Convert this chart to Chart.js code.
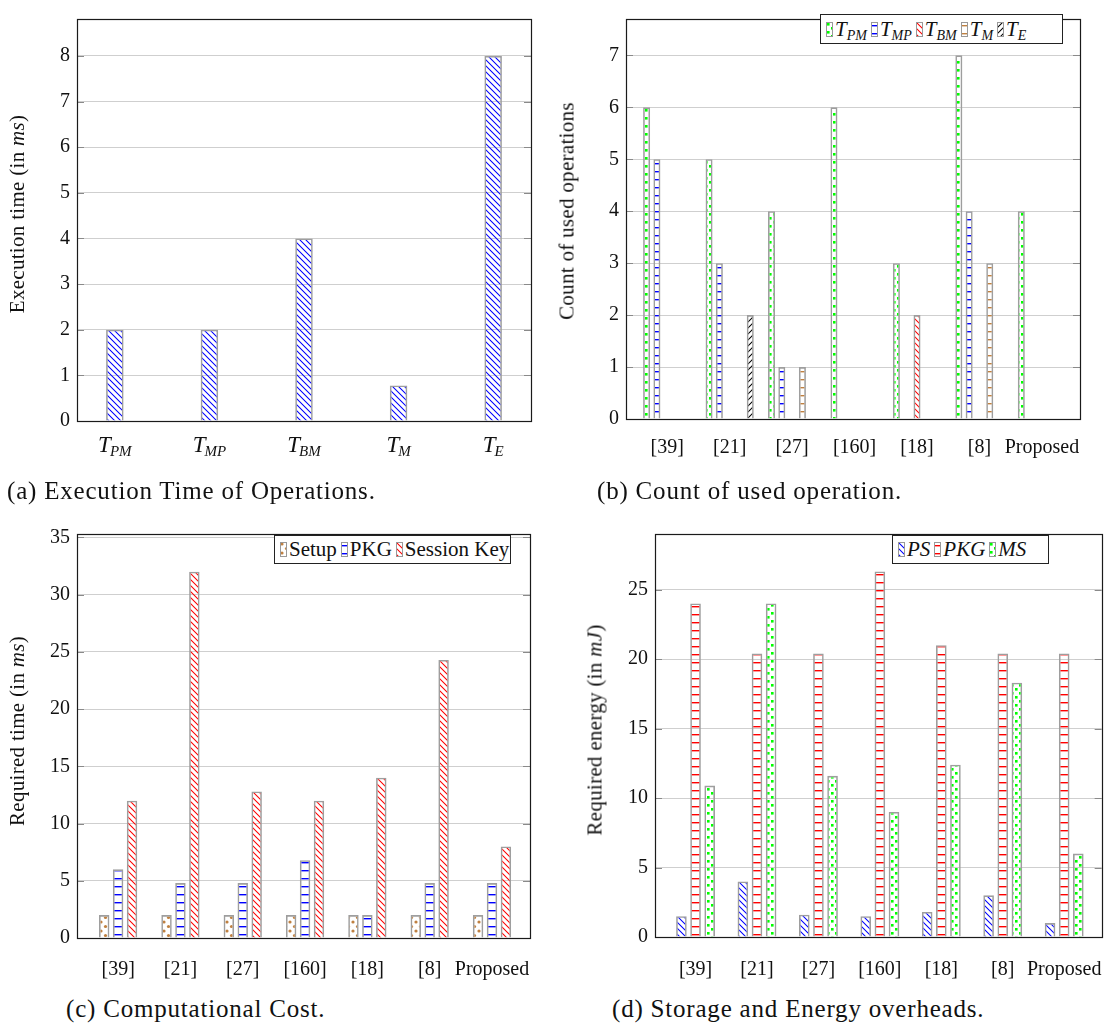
<!DOCTYPE html>
<html><head><meta charset="utf-8">
<script src="https://cdn.jsdelivr.net/npm/chart.js@4.4.1/dist/chart.umd.min.js"></script>
<style>
html,body{margin:0;padding:0;background:#fff;}
body{width:1115px;height:1032px;position:relative;overflow:hidden;font-family:'Liberation Serif','Times New Roman',serif;color:#111;}
.cv{position:absolute;}
.cap{position:absolute;font-size:25px;letter-spacing:0.8px;white-space:nowrap;line-height:1;}
.ytitle{position:absolute;font-size:21px;letter-spacing:0.3px;white-space:nowrap;line-height:1;transform:translate(-50%,-50%) rotate(-90deg);}
.legend{position:absolute;border:1.3px solid #222;background:#fff;display:flex;align-items:center;box-sizing:border-box;font-size:21px;padding:0 5px;white-space:nowrap;}
.legend canvas{margin:0 2px 0 4px;}
.legend canvas:first-child{margin-left:0;}
sub{font-size:14px;vertical-align:-4px;line-height:0;}
</style></head><body>
<canvas id="ca" class="cv" width="545" height="470" style="left:0;top:0"></canvas>
<canvas id="cb" class="cv" width="550" height="470" style="left:560px;top:0"></canvas>
<canvas id="cc" class="cv" width="545" height="470" style="left:0;top:515px"></canvas>
<canvas id="cd" class="cv" width="545" height="470" style="left:570px;top:515px"></canvas>

<div class="ytitle" style="left:17px;top:214px">Execution time (in <i>ms</i>)</div>
<div class="ytitle" style="left:567px;top:211px">Count of used operations</div>
<div class="ytitle" style="left:17px;top:731px">Required time (in <i>ms</i>)</div>
<div class="ytitle" style="left:595px;top:730px">Required energy (in <i>mJ</i>)</div>

<div id="legb" class="legend" style="left:820px;top:14px;width:243px;height:30px"></div>
<div id="legc" class="legend" style="left:274px;top:535px;width:237px;height:29px"></div>
<div id="legd" class="legend" style="left:892px;top:535px;width:157px;height:29px"></div>

<div class="cap" style="left:7px;top:478px">(a) Execution Time of Operations.</div>
<div class="cap" style="left:597px;top:478px">(b) Count of used operation.</div>
<div class="cap" style="left:66px;top:996px">(c) Computational Cost.</div>
<div class="cap" style="left:612px;top:996px">(d) Storage and Energy overheads.</div>

<script>
// ---------- data ----------
const opMain = 'T';
const opSubs = ['PM', 'MP', 'BM', 'M', 'E'];
const execTime = [2, 2, 4, 0.78, 8];

const schemes = ['[39]', '[21]', '[27]', '[160]', '[18]', '[8]', 'Proposed'];

const countTPM = [6, 5, 4, 6, 3, 7, 4];
const countTMP = [5, 3, 1, 0, 0, 4, 0];
const countTBM = [0, 0, 0, 0, 2, 0, 0];
const countTM  = [0, 0, 1, 0, 0, 3, 0];
const countTE  = [0, 2, 0, 0, 0, 0, 0];

const costSetup   = [2, 2, 2, 2, 2, 2, 2];
const costPKG     = [6, 4.8, 4.8, 6.8, 2, 4.8, 4.8];
const costSession = [12, 32, 12.8, 12, 14, 24.3, 8];

const energyPS  = [1.5, 4, 1.6, 1.5, 1.8, 3, 1];
const energyPKG = [24, 20.4, 20.4, 26.3, 21, 20.4, 20.4];
const energyMS  = [10.9, 24, 11.6, 9, 12.4, 18.3, 6];

const yTicksA = {max: 8.81, step: 1};
const yTicksB = {max: 7.7, step: 1};
const yTicksC = {max: 35.3, step: 5};
const yTicksD = {max: 29.0, step: 5};

// ---------- patterns ----------
const BLUE = '#0000ff', RED = '#ff0000', GREEN = '#00ff00', BROWN = '#bf8040', BLACK = '#000000';
function patternTile(type, color) {
  const c = document.createElement('canvas');
  let w = 6, h = 6;
  if (type === 'hlines') { w = 4; h = 8; }
  if (type === 'cdots') { w = 8; h = 8; }
  if (type === 'dots') { w = 9; h = 9; }
  c.width = w; c.height = h;
  const g = c.getContext('2d');
  g.strokeStyle = color; g.fillStyle = color; g.lineWidth = 1.05;
  if (type === 'nw') {
    g.beginPath();
    for (const o of [-w, 0, w]) { g.moveTo(o - 1, -1); g.lineTo(o + w + 1, h + 1); }
    g.stroke();
  } else if (type === 'ne') {
    g.beginPath();
    for (const o of [-w, 0, w]) { g.moveTo(o - 1, h + 1); g.lineTo(o + w + 1, -1); }
    g.stroke();
  } else if (type === 'hlines') {
    g.fillRect(0, 3, w, 1.4);
  } else if (type === 'cdots') {
    g.fillRect(1, 1, 2.6, 2.6); g.fillRect(5, 5, 2.6, 2.6);
  } else if (type === 'dots') {
    g.beginPath(); g.arc(2, 2, 1.6, 0, 7); g.fill();
    g.beginPath(); g.arc(6.5, 6.5, 1.6, 0, 7); g.fill();
  }
  return c;
}
function pattern(type, color) {
  const ctx = document.createElement('canvas').getContext('2d');
  return ctx.createPattern(patternTile(type, color), 'repeat');
}
function swatch(type, color) {
  const c = document.createElement('canvas');
  c.width = 7; c.height = 15;
  const g = c.getContext('2d');
  g.fillStyle = '#fff'; g.fillRect(0, 0, 7, 15);
  g.fillStyle = g.createPattern(patternTile(type, color), 'repeat');
  g.fillRect(0, 0, 7, 15);
  g.strokeStyle = '#999'; g.lineWidth = 1; g.strokeRect(0.5, 0.5, 6, 14);
  return c;
}
function legend(id, items) {
  const el = document.getElementById(id);
  items.forEach(it => {
    el.appendChild(swatch(it.type, it.color));
    const s = document.createElement('span');
    s.innerHTML = it.html;
    el.appendChild(s);
  });
}

// ---------- plugins ----------
const FONT = "'Liberation Serif','Times New Roman',serif";
const framePlugin = {
  id: 'frame',
  afterDatasetsDraw(chart) {
    const {ctx, chartArea: a, scales: {y}} = chart;
    ctx.save();
    ctx.strokeStyle = '#8a8a8a'; ctx.lineWidth = 1;
    y.ticks.forEach(t => {
      const py = Math.round(y.getPixelForValue(t.value)) + 0.5;
      ctx.beginPath();
      ctx.moveTo(a.left, py); ctx.lineTo(a.left + 7, py);
      ctx.moveTo(a.right - 7, py); ctx.lineTo(a.right, py);
      ctx.stroke();
    });
    ctx.strokeStyle = '#1a1a1a'; ctx.lineWidth = 1.2;
    ctx.strokeRect(Math.round(a.left) + 0.5, Math.round(a.top) + 0.5,
      Math.round(a.right - a.left), Math.round(a.bottom - a.top));
    ctx.restore();
  }
};
const subLabelPlugin = {
  id: 'subLabels',
  afterDraw(chart, args, o) {
    if (!o || !o.subs) return;
    const ctx = chart.ctx, xs = chart.scales.x;
    ctx.save();
    ctx.fillStyle = '#111'; ctx.textBaseline = 'alphabetic';
    o.subs.forEach((sub, i) => {
      const x = xs.getPixelForValue(i);
      ctx.font = 'italic 23px ' + FONT; const w1 = ctx.measureText(o.main).width;
      ctx.font = 'italic 15px ' + FONT; const w2 = ctx.measureText(sub).width;
      const x0 = x - (w1 + w2 - 1) / 2;
      const yb = chart.chartArea.bottom + o.offset;
      ctx.font = 'italic 23px ' + FONT; ctx.fillText(o.main, x0, yb);
      ctx.font = 'italic 15px ' + FONT; ctx.fillText(sub, x0 + w1 - 1, yb + 4);
    });
    ctx.restore();
  }
};
Chart.register(framePlugin, subLabelPlugin);

// ---------- chart builder ----------
function build(id, cfg) {
  const datasets = cfg.series.map(s => ({
    label: s.label,
    data: s.values.map((v, i) => ({x: i, y: v})),
    backgroundColor: pattern(s.type, s.color),
    borderColor: '#9e9e9e',
    borderWidth: 1.6,
    categoryPercentage: cfg.catPct,
    barPercentage: cfg.barPct
  }));
  return new Chart(document.getElementById(id), {
    type: 'bar',
    data: {datasets},
    options: {
      responsive: false, animation: false, devicePixelRatio: 1,
      layout: {padding: cfg.pad},
      plugins: {legend: {display: false}, tooltip: {enabled: false}, subLabels: cfg.subLabels || {}},
      scales: {
        x: {
          type: 'linear', min: cfg.xmin, max: cfg.xmax, offset: false,
          grid: {display: false, offset: false}, border: {display: false},
          ticks: {
            display: !cfg.subLabels, stepSize: 1, includeBounds: false, autoSkip: false,
            maxRotation: 0, minRotation: 0, padding: cfg.xPad,
            color: '#111', font: {family: FONT, size: 20},
            callback: v => (Number.isInteger(v) && cfg.labels ? (cfg.labels[v] ?? '') : '')
          },
          afterFit: s => { s.height = cfg.xHeight; }
        },
        y: {
          type: 'linear', min: 0, max: cfg.yt.max,
          grid: {color: '#cfcfcf', lineWidth: 1, drawTicks: false},
          border: {display: false},
          ticks: {stepSize: cfg.yt.step, includeBounds: false, padding: 7,
            color: '#111', font: {family: FONT, size: 20}},
          afterFit: s => { s.width = cfg.yWidth; }
        }
      }
    }
  });
}

// (a)
build('ca', {
  series: [{label: 'Execution time', values: execTime, type: 'nw', color: BLUE}],
  xmin: -0.4, xmax: 4.4, yt: yTicksA, catPct: 1, barPct: 0.185,
  pad: {top: 7, right: 14, left: 0, bottom: 0}, yWidth: 77, xHeight: 49, xPad: 0,
  subLabels: {main: opMain, subs: opSubs, offset: 31}
});
// (b)
build('cb', {
  series: [
    {label: 'T_PM', values: countTPM, type: 'cdots', color: GREEN},
    {label: 'T_MP', values: countTMP, type: 'hlines', color: BLUE},
    {label: 'T_BM', values: countTBM, type: 'nw', color: RED},
    {label: 'T_M', values: countTM, type: 'hlines', color: BROWN},
    {label: 'T_E', values: countTE, type: 'ne', color: BLACK}
  ],
  labels: schemes, xmin: -0.66, xmax: 6.61, yt: yTicksB, catPct: 0.825, barPct: 0.68,
  pad: {top: 3, right: 30, left: 0, bottom: 0}, yWidth: 66, xHeight: 51, xPad: 9
});
// (c)
build('cc', {
  series: [
    {label: 'Setup', values: costSetup, type: 'dots', color: BROWN},
    {label: 'PKG', values: costPKG, type: 'hlines', color: BLUE},
    {label: 'Session Key', values: costSession, type: 'nw', color: RED}
  ],
  labels: schemes, xmin: -0.66, xmax: 6.61, yt: yTicksC, catPct: 0.67, barPct: 0.75,
  pad: {top: 9, right: 15, left: 0, bottom: 0}, yWidth: 77, xHeight: 47, xPad: 12
});
// (d)
build('cd', {
  series: [
    {label: 'PS', values: energyPS, type: 'nw', color: BLUE},
    {label: 'PKG', values: energyPKG, type: 'hlines', color: RED},
    {label: 'MS', values: energyMS, type: 'cdots', color: GREEN}
  ],
  labels: schemes, xmin: -0.66, xmax: 6.61, yt: yTicksD, catPct: 0.69, barPct: 0.75,
  pad: {top: 8, right: 7, left: 0, bottom: 0}, yWidth: 85, xHeight: 48, xPad: 13
});

// legends
legend('legb', [
  {type: 'cdots', color: GREEN, html: '<i>T<sub>PM</sub></i>'},
  {type: 'hlines', color: BLUE, html: '<i>T<sub>MP</sub></i>'},
  {type: 'nw', color: RED, html: '<i>T<sub>BM</sub></i>'},
  {type: 'hlines', color: BROWN, html: '<i>T<sub>M</sub></i>'},
  {type: 'ne', color: BLACK, html: '<i>T<sub>E</sub></i>'}
]);
legend('legc', [
  {type: 'dots', color: BROWN, html: 'Setup'},
  {type: 'hlines', color: BLUE, html: 'PKG'},
  {type: 'nw', color: RED, html: 'Session Key'}
]);
legend('legd', [
  {type: 'nw', color: BLUE, html: '<i>PS</i>'},
  {type: 'hlines', color: RED, html: '<i>PKG</i>'},
  {type: 'cdots', color: GREEN, html: '<i>MS</i>'}
]);
</script>
</body></html>
